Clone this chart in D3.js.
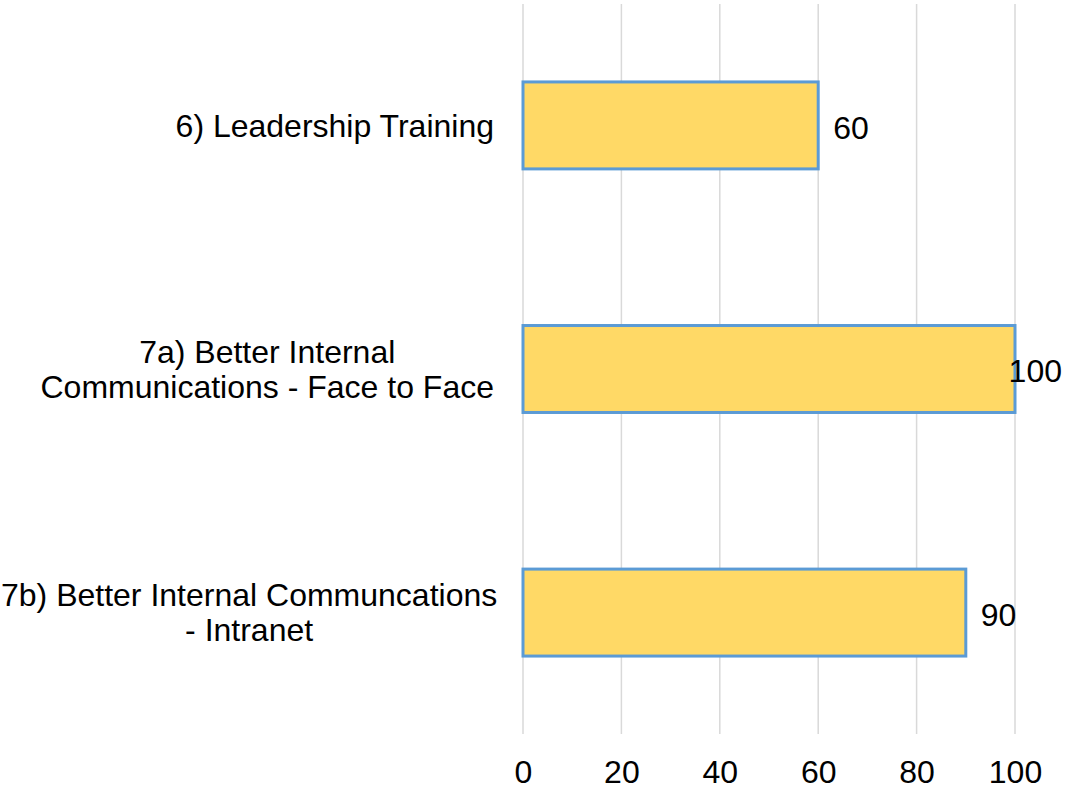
<!DOCTYPE html>
<html><head><meta charset="utf-8">
<script src="https://cdn.jsdelivr.net/npm/d3@7"></script>
<style>body{margin:0;background:#fff;}svg{display:block;font-family:"Liberation Sans",Arial,sans-serif;}</style>
</head><body>
<svg id="c" width="1066" height="789"></svg>
<script>
const categories = [
  ["6) Leadership Training"],
  ["7a) Better Internal", "Communications - Face to Face"],
  ["7b) Better Internal Communcations", "- Intranet"]
];
const values = [60, 100, 90];
const xTicks = [0, 20, 40, 60, 80, 100];

(function () {
const svg = d3.select("#c");
const W = 1066;
const mL = 523, mR = 1015, mT = 4, mB = 734;
const fs = 32;

const x = d3.scaleLinear().domain([0, 100]).range([mL, mR]);
const y = d3.scaleBand().domain(d3.range(categories.length)).range([mT, mB]).paddingInner(0.643).paddingOuter(0.32);

// gridlines
svg.append("g").selectAll("line").data(xTicks).join("line")
  .attr("x1", d => x(d)).attr("x2", d => x(d))
  .attr("y1", mT).attr("y2", mB)
  .attr("stroke", "#D9D9D9").attr("stroke-width", 1.5);

// x axis labels
const xa = svg.append("g").attr("transform", `translate(0,${mB})`)
  .call(d3.axisBottom(x).tickValues(xTicks).tickSize(0).tickPadding(26));
xa.select(".domain").remove();
xa.selectAll("text").attr("font-size", fs).attr("fill", "#000").attr("font-family", "Liberation Sans, Arial, sans-serif");

// bars
svg.append("g").selectAll("rect").data(values).join("rect")
  .attr("x", x(0)).attr("y", (d, i) => y(i))
  .attr("width", d => x(d) - x(0)).attr("height", y.bandwidth())
  .attr("fill", "#FFD966").attr("stroke", "#5B9BD5").attr("stroke-width", 3);

// value labels
svg.append("g").selectAll("text").data(values).join("text")
  .attr("font-size", fs).attr("fill", "#000")
  .attr("y", (d, i) => y(i) + y.bandwidth() / 2 + 2)
  .attr("dy", "0.35em")
  .text(d => d)
  .each(function(d) {
    const w = this.getComputedTextLength();
    let px = x(d) + 15;
    if (px + w > W - 4) px = W - 4 - w;
    d3.select(this).attr("x", px);
  });

// category labels
const labelRight = 494, lineH = 35;
categories.forEach((lines, i) => {
  const g = svg.append("g");
  const cy = y(i) + y.bandwidth() / 2;
  const texts = lines.map((t, k) => g.append("text")
    .attr("font-size", fs).attr("fill", "#000")
    .attr("text-anchor", "middle")
    .attr("y", cy + (k - (lines.length - 1) / 2) * lineH)
    .attr("dy", "0.35em").text(t));
  const maxW = d3.max(texts, t => t.node().getComputedTextLength());
  let cx = labelRight - maxW / 2;
  if (cx - maxW / 2 < 1) cx = 1 + maxW / 2;
  texts.forEach(t => t.attr("x", cx));
});
})();
</script>
</body></html>
